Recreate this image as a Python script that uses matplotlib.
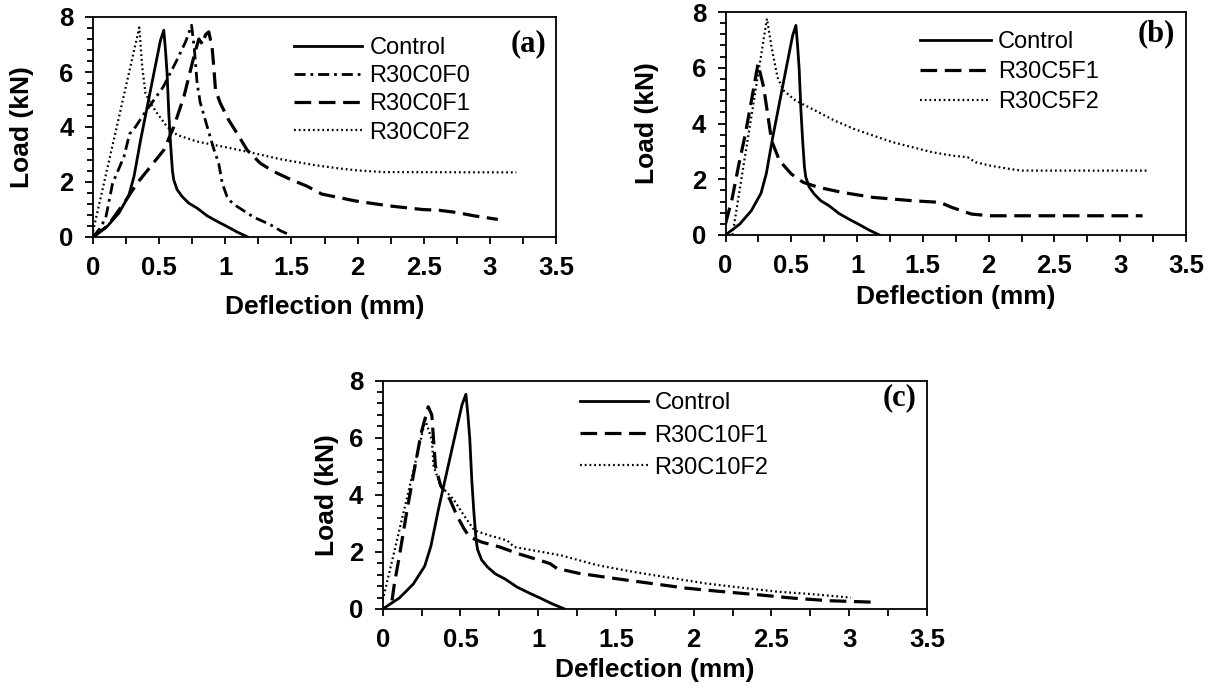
import matplotlib
matplotlib.use("Agg")
import matplotlib.pyplot as plt
from matplotlib.ticker import MultipleLocator

plt.rcParams['font.family'] = ['Liberation Sans', 'DejaVu Sans']
plt.rcParams['lines.scale_dashes'] = False

# Control beam, same curve in all three panels
ctrl_x = [0, 0.108, 0.196, 0.27, 0.31, 0.36, 0.41, 0.46, 0.51, 0.535, 0.548, 0.56, 0.573,
          0.586, 0.60, 0.61, 0.636, 0.674, 0.724, 0.787, 0.863, 0.938, 1.01, 1.09, 1.17]
ctrl_y = [0, 0.39, 0.87, 1.5, 2.2, 3.53, 4.74, 5.95, 7.15, 7.52, 6.79, 5.95, 4.5,
          3.41, 2.44, 2.08, 1.72, 1.47, 1.23, 1.05, 0.77, 0.57, 0.39, 0.18, 0.0]

# panel (a)
f0_x = [0, 0.05, 0.096, 0.148, 0.234, 0.276, 0.322, 0.403, 0.53, 0.633, 0.70, 0.745,
        0.765, 0.787, 0.81, 0.84, 0.87, 0.913, 0.95, 0.977, 1.013, 1.04, 1.089, 1.215,
        1.34, 1.42, 1.5]
f0_y = [0, 0.3, 0.69, 1.95, 2.92, 3.74, 4.01, 4.6, 5.45, 6.42, 7.1, 7.7,
        6.9, 5.6, 4.9, 4.4, 3.9, 3.2, 2.68, 1.96, 1.47, 1.3, 1.11, 0.72,
        0.45, 0.22, 0.05]

f1a_x = [0, 0.108, 0.234, 0.334, 0.435, 0.536, 0.611, 0.687, 0.762, 0.80, 0.83, 0.85,
         0.875, 0.90, 0.913, 0.926, 0.963, 1.026, 1.089, 1.164, 1.265, 1.366, 1.49,
         1.617, 1.73, 1.985, 2.24, 2.49, 2.62, 2.75, 2.88, 3.06]
f1a_y = [0, 0.39, 1.23, 1.96, 2.56, 3.17, 4.01, 5.1, 6.55, 7.2, 7.0, 7.35,
         7.46, 6.91, 6.19, 5.34, 4.86, 4.25, 3.77, 3.17, 2.68, 2.38, 2.1,
         1.85, 1.56, 1.31, 1.13, 1.0, 0.97, 0.89, 0.77, 0.64]

f2a_x = [0, 0.35, 0.372, 0.397, 0.435, 0.485, 0.56, 0.636, 0.787, 0.913, 1.04, 1.215,
         1.416, 1.667, 1.85, 2.0, 2.2, 3.2]
f2a_y = [0.2, 7.62, 6.19, 5.22, 4.86, 4.5, 4.01, 3.71, 3.47, 3.35, 3.23, 3.05,
         2.83, 2.62, 2.5, 2.42, 2.36, 2.35]

# panel (b)
f1b_x = [0, 0.05, 0.1, 0.15, 0.2, 0.247, 0.29, 0.32, 0.35, 0.41, 0.5, 0.59, 0.707,
         0.885, 1.12, 1.42, 1.63, 1.72, 1.87, 2.01, 3.17]
f1b_y = [0.4, 1.3, 2.5, 3.6, 4.9, 6.14, 5.3, 4.35, 3.39, 2.67, 2.19, 1.89, 1.71,
         1.53, 1.35, 1.23, 1.17, 0.99, 0.75, 0.69, 0.69]

f2b_x = [0.053, 0.315, 0.35, 0.395, 0.44, 0.53, 0.68, 0.826, 0.974, 1.12, 1.27, 1.42,
         1.57, 1.72, 1.84, 1.9, 2.01, 2.16, 2.25, 3.2]
f2b_y = [0, 7.76, 6.74, 5.66, 5.19, 4.83, 4.47, 4.11, 3.81, 3.57, 3.33, 3.15,
         2.97, 2.85, 2.79, 2.61, 2.49, 2.37, 2.31, 2.31]

# panel (c)
f1c_x = [0.06, 0.074, 0.108, 0.154, 0.2, 0.247, 0.293, 0.316, 0.327, 0.339, 0.373, 0.431,
         0.477, 0.523, 0.558, 0.638, 0.753, 0.869, 1.007, 1.076, 1.12, 1.26, 1.49, 1.72,
         1.95, 2.18, 2.41, 2.64, 2.87, 3.15]
f1c_y = [0.3, 0.84, 1.88, 3.38, 4.77, 6.15, 7.08, 6.79, 5.92, 5.0, 4.31, 3.85,
         3.27, 2.81, 2.52, 2.34, 2.17, 1.94, 1.71, 1.59, 1.42, 1.25, 1.07, 0.9,
         0.73, 0.61, 0.5, 0.38, 0.29, 0.24]

f2c_x = [0.0, 0.1, 0.2, 0.274, 0.316, 0.327, 0.373, 0.454, 0.523, 0.59, 0.684, 0.8,
         0.846, 0.96, 1.145, 1.376, 1.61, 1.84, 2.07, 2.3, 2.53, 2.76, 3.01]
f2c_y = [0.3, 2.6, 4.9, 6.62, 5.92, 5.0, 4.31, 3.85, 3.27, 2.75, 2.58, 2.4,
         2.17, 2.06, 1.88, 1.54, 1.3, 1.1, 0.9, 0.75, 0.61, 0.52, 0.4]

W, H = 1212, 692
fig = plt.figure(figsize=(W / 100, H / 100), dpi=100)


def px_axes(left, right, top, bottom):
    return fig.add_axes([left / W, 1 - bottom / H, (right - left) / W, (bottom - top) / H])


solid = dict(color='black', lw=2.0, linestyle='-')
dashdot = dict(color='black', lw=2.0, linestyle=(0, (8, 3.5, 2, 3.5)))
longdash = dict(color='black', lw=2.3, linestyle=(0, (12, 5.5)))
dotted = dict(color='black', lw=1.6, linestyle=(0, (1.3, 2.1)))


def style(ax, tag, tag_x, tag_y, xl_y, yl_x, lx, ly, hl, ls):
    ax.set_xlim(0, 3.5)
    ax.set_ylim(0, 8)
    ax.xaxis.set_minor_locator(MultipleLocator(0.25))
    ax.yaxis.set_major_locator(MultipleLocator(2))
    ax.yaxis.set_minor_locator(MultipleLocator(0.4))
    ax.set_xticks([0, 0.5, 1, 1.5, 2, 2.5, 3, 3.5])
    ax.set_xticklabels(['0', '0.5', '1', '1.5', '2', '2.5', '3', '3.5'])
    ax.tick_params(which='both', direction='out', width=1.3, colors='black')
    ax.tick_params(axis='x', which='both', length=5, pad=9, labelsize=18.5)
    ax.tick_params(axis='y', which='major', length=6, pad=8, labelsize=18.5)
    ax.tick_params(axis='y', which='minor', length=4.5)
    for lab in ax.get_xticklabels() + ax.get_yticklabels():
        lab.set_fontweight('bold')
    for sp in ax.spines.values():
        sp.set_linewidth(1.3)
    ax.set_xlabel('Deflection (mm)', fontsize=19, fontweight='bold')
    ax.set_ylabel('Load (kN)', fontsize=19, fontweight='bold')
    ax.xaxis.set_label_coords(0.5, xl_y)
    ax.yaxis.set_label_coords(yl_x, 0.5)
    ax.legend(loc='upper left', bbox_to_anchor=(lx, ly), frameon=False, fontsize=17,
              borderpad=0, borderaxespad=0, handlelength=hl, handletextpad=0.3,
              labelspacing=ls)
    ax.text(tag_x, tag_y, tag, transform=ax.transAxes, ha='right', va='center',
            fontsize=22, fontweight='bold', family='Liberation Serif')


# (a)
ax_a = px_axes(93, 556, 17, 237)
ax_a.plot(ctrl_x, ctrl_y, label='Control', **solid)
ax_a.plot(f0_x, f0_y, label='R30C0F0', **dashdot)
ax_a.plot(f1a_x, f1a_y, label='R30C0F1', **longdash)
ax_a.plot(f2a_x, f2a_y, label='R30C0F2', **dotted)
style(ax_a, '(a)', 0.98, 0.877, -0.264, -0.127, 0.434, 0.91, 2.9, 0.265)

# (b)
ax_b = px_axes(725.5, 1186, 12, 235)
ax_b.plot(ctrl_x, ctrl_y, label='Control', **solid)
ax_b.plot(f1b_x, f1b_y, label='R30C5F1', **longdash)
ax_b.plot(f2b_x, f2b_y, label='R30C5F2', **dotted)
style(ax_b, '(b)', 0.976, 0.901, -0.224, -0.144, 0.422, 0.913, 3.0, 0.33)

# (c)
ax_c = px_axes(382.7, 927, 380.5, 609)
ax_c.plot(ctrl_x, ctrl_y, label='Control', **solid)
ax_c.plot(f1c_x, f1c_y, label='R30C10F1', **longdash)
ax_c.plot(f2c_x, f2c_y, label='R30C10F2', **dotted)
style(ax_c, '(c)', 0.98, 0.923, -0.214, -0.08, 0.3625, 0.948, 2.86, 0.43)

fig.savefig('out.png', dpi=100)
